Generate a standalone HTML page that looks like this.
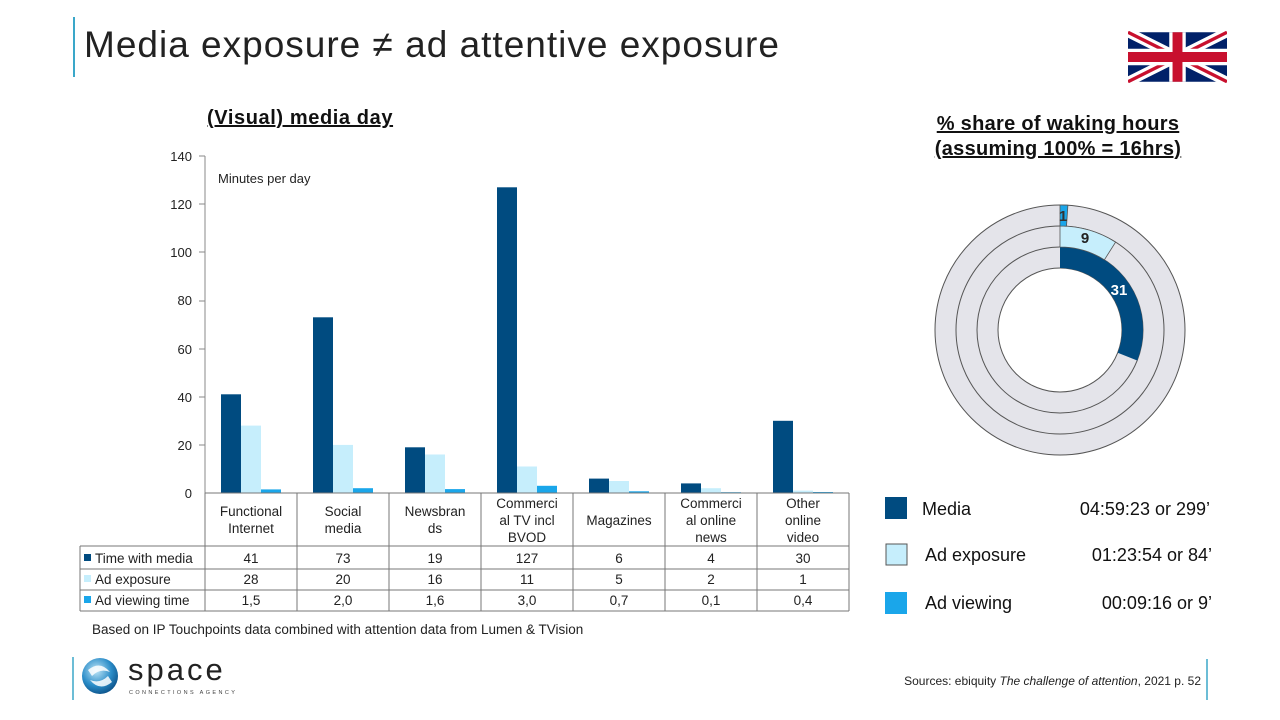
<!DOCTYPE html>
<html><head><meta charset="utf-8"><style>
body{margin:0;width:1280px;height:720px;background:#fff;position:relative;overflow:hidden;font-family:"Liberation Sans",sans-serif;}
.a{position:absolute;}
</style></head><body>
<div class="a" style="left:73px;top:17px;width:2px;height:60px;background:#3aa7c9"></div>
<div class="a" style="left:84px;top:24px;font-size:37px;color:#222;letter-spacing:1px;">Media exposure ≠ ad attentive exposure</div>
<svg class="a" style="left:1128px;top:31px" width="99" height="52" viewBox="0 0 60 30">
<rect width="60" height="30" fill="#012169"/>
<path d="M0,0L60,30M60,0L0,30" stroke="#fff" stroke-width="6"/>
<path d="M0,0L60,30M60,0L0,30" stroke="#C8102E" stroke-width="2"/>
<path d="M30,0V30M0,15H60" stroke="#fff" stroke-width="10"/>
<path d="M30,0V30M0,15H60" stroke="#C8102E" stroke-width="6"/>
</svg>
<div class="a" style="left:207px;top:107px;font-size:20px;font-weight:bold;text-decoration:underline;color:#111;letter-spacing:0.6px">(Visual) media day</div>
<div class="a" style="left:900px;top:112px;width:316px;text-align:center;font-size:20px;font-weight:bold;text-decoration:underline;color:#111;line-height:25px;letter-spacing:0.3px">% share of waking hours<br>(assuming 100% = 16hrs)</div>

<svg class="a" style="left:0;top:0" width="1280" height="720" font-family="Liberation Sans, sans-serif">
<g font-size="13" fill="#222" text-anchor="end">
<text x="192" y="161">140</text><text x="192" y="209">120</text><text x="192" y="257">100</text>
<text x="192" y="305">80</text><text x="192" y="354">60</text><text x="192" y="402">40</text>
<text x="192" y="450">20</text><text x="192" y="498">0</text>
</g>
<line x1="205" y1="156" x2="205" y2="493" stroke="#888"/>
<g stroke="#888"><line x1="199" y1="156" x2="205" y2="156"/><line x1="199" y1="204" x2="205" y2="204"/><line x1="199" y1="252" x2="205" y2="252"/><line x1="199" y1="301" x2="205" y2="301"/><line x1="199" y1="349" x2="205" y2="349"/><line x1="199" y1="397" x2="205" y2="397"/><line x1="199" y1="445" x2="205" y2="445"/></g>
<text x="218" y="183" font-size="13" fill="#222">Minutes per day</text>
<g>
<rect x="221" y="394.3" width="20" height="98.7" fill="#004b80"/><rect x="241" y="425.6" width="20" height="67.4" fill="#c6eefc"/><rect x="261" y="489.4" width="20" height="3.6" fill="#1aa6ea"/>
<rect x="313" y="317.3" width="20" height="175.7" fill="#004b80"/><rect x="333" y="444.9" width="20" height="48.1" fill="#c6eefc"/><rect x="353" y="488.2" width="20" height="4.8" fill="#1aa6ea"/>
<rect x="405" y="447.3" width="20" height="45.7" fill="#004b80"/><rect x="425" y="454.5" width="20" height="38.5" fill="#c6eefc"/><rect x="445" y="489.1" width="20" height="3.9" fill="#1aa6ea"/>
<rect x="497" y="187.3" width="20" height="305.7" fill="#004b80"/><rect x="517" y="466.5" width="20" height="26.5" fill="#c6eefc"/><rect x="537" y="485.8" width="20" height="7.2" fill="#1aa6ea"/>
<rect x="589" y="478.6" width="20" height="14.4" fill="#004b80"/><rect x="609" y="481" width="20" height="12" fill="#c6eefc"/><rect x="629" y="491.3" width="20" height="1.7" fill="#1aa6ea"/>
<rect x="681" y="483.4" width="20" height="9.6" fill="#004b80"/><rect x="701" y="488.2" width="20" height="4.8" fill="#c6eefc"/><rect x="721" y="492.2" width="20" height="0.8" fill="#1aa6ea"/>
<rect x="773" y="420.8" width="20" height="72.2" fill="#004b80"/><rect x="793" y="490.6" width="20" height="2.4" fill="#c6eefc"/><rect x="813" y="492" width="20" height="1" fill="#1aa6ea"/>
</g>
<g stroke="#777" fill="none">
<line x1="205" y1="493" x2="849" y2="493"/>
<line x1="80" y1="546" x2="849" y2="546"/><line x1="80" y1="569" x2="849" y2="569"/><line x1="80" y1="590" x2="849" y2="590"/><line x1="80" y1="611" x2="849" y2="611"/>
<line x1="80" y1="546" x2="80" y2="611"/>
<line x1="205" y1="493" x2="205" y2="611"/><line x1="297" y1="493" x2="297" y2="611"/><line x1="389" y1="493" x2="389" y2="611"/><line x1="481" y1="493" x2="481" y2="611"/><line x1="573" y1="493" x2="573" y2="611"/><line x1="665" y1="493" x2="665" y2="611"/><line x1="757" y1="493" x2="757" y2="611"/><line x1="849" y1="493" x2="849" y2="611"/>
</g>
<g font-size="13.5" fill="#222" text-anchor="middle">
<text x="251" y="516">Functional</text><text x="251" y="533">Internet</text>
<text x="343" y="516">Social</text><text x="343" y="533">media</text>
<text x="435" y="516">Newsbran</text><text x="435" y="533">ds</text>
<text x="527" y="508">Commerci</text><text x="527" y="525">al TV incl</text><text x="527" y="542">BVOD</text>
<text x="619" y="525">Magazines</text>
<text x="711" y="508">Commerci</text><text x="711" y="525">al online</text><text x="711" y="542">news</text>
<text x="803" y="508">Other</text><text x="803" y="525">online</text><text x="803" y="542">video</text>
<text x="251" y="563">41</text><text x="343" y="563">73</text><text x="435" y="563">19</text><text x="527" y="563">127</text><text x="619" y="563">6</text><text x="711" y="563">4</text><text x="803" y="563">30</text>
<text x="251" y="584">28</text><text x="343" y="584">20</text><text x="435" y="584">16</text><text x="527" y="584">11</text><text x="619" y="584">5</text><text x="711" y="584">2</text><text x="803" y="584">1</text>
<text x="251" y="605">1,5</text><text x="343" y="605">2,0</text><text x="435" y="605">1,6</text><text x="527" y="605">3,0</text><text x="619" y="605">0,7</text><text x="711" y="605">0,1</text><text x="803" y="605">0,4</text>
</g>
<g font-size="13.5" fill="#222">
<rect x="84" y="554" width="7" height="7" fill="#004b80"/><text x="95" y="563">Time with media</text>
<rect x="84" y="575" width="7" height="7" fill="#c6eefc"/><text x="95" y="584">Ad exposure</text>
<rect x="84" y="596" width="7" height="7" fill="#1aa6ea"/><text x="95" y="605">Ad viewing time</text>
<text x="92" y="634">Based on IP Touchpoints data combined with attention data from Lumen &amp; TVision</text>
</g>
<g stroke="#555" stroke-width="1">
<circle cx="1060" cy="330" r="125" fill="#e4e4ea"/>
<circle cx="1060" cy="330" r="104" fill="#e4e4ea"/>
<circle cx="1060" cy="330" r="83" fill="#e4e4ea"/>
<circle cx="1060" cy="330" r="62" fill="#fff"/>
</g>
<path d="M1060,247 A83,83 0 0 1 1137.2,360.5 L1117.7,352.8 A62,62 0 0 0 1060,268 Z" fill="#004b80"/>
<path d="M1060,226 A104,104 0 0 1 1115.6,242.1 L1104.4,259.8 A83,83 0 0 0 1060,247 Z" fill="#c6eefc" stroke="#555" stroke-width="0.8"/>
<path d="M1060,205 A125,125 0 0 1 1067.9,205.2 L1066.5,226.2 A104,104 0 0 0 1060,226 Z" fill="#1aa6ea" stroke="#555" stroke-width="0.8"/>
<g font-weight="bold" font-size="15" text-anchor="middle">
<text x="1063" y="221" fill="#333">1</text>
<text x="1085" y="243" fill="#222">9</text>
<text x="1119" y="295" fill="#fff">31</text>
</g>
<rect x="885" y="497" width="22" height="22" fill="#004b80"/>
<rect x="886" y="544" width="21" height="21" fill="#c6eefc" stroke="#555"/>
<rect x="885" y="592" width="22" height="22" fill="#1aa6ea"/>
<g font-size="18" fill="#111">
<text x="922" y="515">Media</text><text x="1210" y="515" text-anchor="end">04:59:23 or 299’</text>
<text x="925" y="561">Ad exposure</text><text x="1212" y="561" text-anchor="end">01:23:54 or 84’</text>
<text x="925" y="609">Ad viewing</text><text x="1212" y="609" text-anchor="end">00:09:16 or 9’</text>
</g>
<line x1="73" y1="657" x2="73" y2="700" stroke="#3aa7c9" stroke-width="1.5"/>
<line x1="1207" y1="659" x2="1207" y2="700" stroke="#3aa7c9" stroke-width="1.5"/>
<text x="1201" y="685" text-anchor="end" font-size="12" fill="#222">Sources: ebiquity  <tspan font-style="italic">The challenge of attention</tspan>, 2021 p. 52</text>
<defs><radialGradient id="g" cx="0.4" cy="0.35" r="0.7"><stop offset="0" stop-color="#bfe6f7"/><stop offset="0.6" stop-color="#2a8cc8"/><stop offset="1" stop-color="#0b4f86"/></radialGradient></defs>
<circle cx="100" cy="676" r="18" fill="url(#g)"/>
<path d="M88,670 Q100,660 110,672 Q100,668 92,676 Z M112,682 Q100,692 90,680 Q100,684 108,676 Z" fill="#fff" opacity="0.85"/>
<text x="128" y="680" font-size="31" fill="#222" letter-spacing="3">space</text>
<text x="129" y="694" font-size="5.5" fill="#444" letter-spacing="2.4">CONNECTIONS AGENCY</text>
</svg>
</body></html>
